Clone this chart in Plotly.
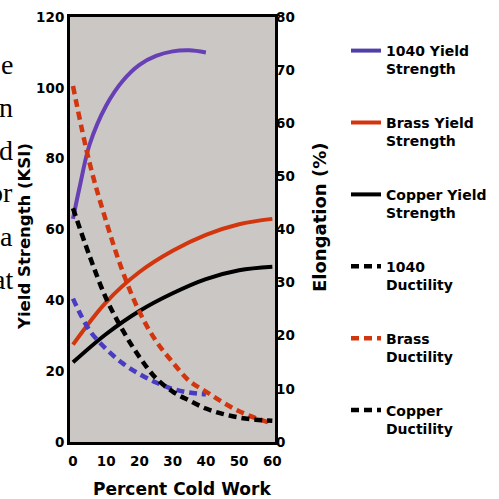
import plotly.graph_objects as go

# percent cold work
cw_1040 = [0, 2, 5, 10, 15, 20, 25, 30, 35, 40]
cw_full = [0, 5, 10, 15, 20, 25, 30, 35, 40, 45, 50, 55, 60]
cw_yield = [0, 10, 20, 30, 40, 50, 60]

# yield strength (KSI)
ys_1040 = [63, 72, 84, 95, 102, 106.5, 109, 110.3, 110.6, 110]
ys_brass = [27.5, 39.5, 48, 54, 58.5, 61.5, 63]
ys_copper = [22.5, 30.5, 37, 42, 46, 48.5, 49.5]

# elongation (%)
cw_duct_1040 = [0, 5, 10, 15, 20, 25, 30, 35, 40]
el_1040 = [27, 21, 17.5, 14.8, 12.8, 11.2, 10, 9.3, 9]
el_brass = [67, 52.5, 41.5, 32, 24.5, 19, 15, 11.5, 9.5, 7.5, 5.8, 4.5, 3.5]
el_copper = [44, 35, 27, 21, 16, 12, 9.5, 7.8, 6.3, 5.3, 4.6, 4.2, 4]

side_text = ["e", "n", "d", "or", "a", "at"]

PURPLE = "#6640b4"
LEGEND_PURPLE = "#4f3fa8"
BLUE = "#4a3cc2"
RED = "#d2360e"
BLACK = "#000000"
font = dict(family="DejaVu Sans, Verdana, sans-serif", size=13.5, color="black", weight="bold")

L, R, T, B = 70, 275, 17, 442  # plot box in pixels


def px(x, y):
    return (x - L) / (R - L), (B - y) / (B - T)


fig = go.Figure()
solid = dict(width=4)
dashed = dict(width=4.5, dash="8px,5px")

# (x, y, axis, legend name, plot line, legend colour)
traces = [
    (cw_1040, ys_1040, "y", "1040 Yield<br>Strength", dict(solid, color=PURPLE), LEGEND_PURPLE),
    (cw_yield, ys_brass, "y", "Brass Yield<br>Strength", dict(solid, color=RED), RED),
    (cw_yield, ys_copper, "y", "Copper Yield<br>Strength", dict(solid, color=BLACK), BLACK),
    (cw_duct_1040, el_1040, "y2", "1040<br>Ductility", dict(dashed, color=BLUE), BLACK),
    (cw_full, el_brass, "y2", "Brass<br>Ductility", dict(dashed, color=RED), RED),
    (cw_full, el_copper, "y2", "Copper<br>Ductility", dict(dashed, color=BLACK), BLACK),
]
for i, (x, y, ax, name, line, lcol) in enumerate(traces):
    fig.add_trace(go.Scatter(x=x, y=y, yaxis=ax, name=name, mode="lines",
                             line=dict(line, shape="spline"), showlegend=False))
    # legend entry (the legend swatches use their own colours in the original)
    fig.add_trace(go.Scatter(x=[None], y=[None], yaxis=ax, name=name, mode="lines",
                             line=dict(line, color=lcol), legendgroup=str(i)))

serif = dict(family="Liberation Serif, Times New Roman, serif", size=28, color="black",
             weight="normal")
for i, t in enumerate(side_text):
    ax_, ay_ = px(15, 64 + 43 * i)
    fig.add_annotation(text=t, xref="paper", yref="paper", x=ax_, y=ay_,
                       xanchor="right", yanchor="middle", showarrow=False, font=serif)

# axis titles
for text, (x, y), angle, size in [
    ("Percent Cold Work", (182, 489), 0, 17),
    ("Yield Strength (KSI)", (25, 237), -90, 16.5),
    ("Elongation (%)", (320, 218), -90, 18),
]:
    ax_, ay_ = px(x, y)
    fig.add_annotation(text=text, xref="paper", yref="paper", x=ax_, y=ay_,
                       xanchor="center", yanchor="middle", textangle=angle,
                       showarrow=False, font=dict(font, size=size))

fig.update_layout(
    width=499, height=499,
    margin=dict(l=L, r=499 - R, t=T, b=499 - B, autoexpand=False),
    paper_bgcolor="white", plot_bgcolor="#cbc7c5",
    font=font,
    showlegend=True,
    legend=dict(xref="container", yref="container", x=346 / 499, y=1 - 35 / 499,
                xanchor="left", yanchor="top", valign="top", maxheight=1,
                tracegroupgap=32.5, font=dict(font, size=14), bgcolor="rgba(0,0,0,0)"),
    xaxis=dict(range=[-0.9, 60.8], tickvals=[0, 10, 20, 30, 40, 50, 60], showgrid=False,
               zeroline=False, showline=True, mirror=True, linecolor="black", linewidth=3,
               ticks="", tickfont=font, automargin=False, ticklabelstandoff=5),
    yaxis=dict(range=[0, 120], tickvals=[0, 20, 40, 60, 80, 100, 120], showgrid=False,
               zeroline=False, showline=True, mirror=True, linecolor="black", linewidth=3,
               ticks="", tickfont=font, automargin=False),
    yaxis2=dict(range=[0, 80], tickvals=[0, 10, 20, 30, 40, 50, 60, 70, 80], overlaying="y",
                side="right", showgrid=False, zeroline=False, showline=False, ticks="",
                tickfont=font, automargin=False),
)

fig.write_html("out.html", config={"displayModeBar": False},
               post_script="document.body.style.margin='0';")
